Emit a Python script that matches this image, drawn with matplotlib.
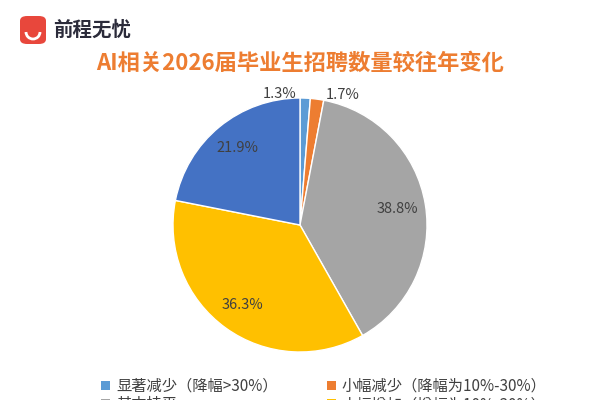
import matplotlib.pyplot as plt
import numpy as np
from matplotlib.patches import FancyBboxPatch, Patch, Arc

plt.rcParams['font.family'] = ['Noto Sans CJK JP', 'Noto Sans CJK SC', 'DejaVu Sans']

categories = ['显著减少（降幅>30%）', '小幅减少（降幅为10%-30%）', '基本持平',
              '小幅增加（增幅为10%-30%）', '大幅增加（增幅>30%）']
values = [1.3, 1.7, 38.8, 36.3, 21.9]
colors = ['#5B9BD5', '#ED7D31', '#A5A5A5', '#FFC000', '#4472C4']

fig = plt.figure(figsize=(6, 4), dpi=100)
ax = fig.add_axes([173/600, 48/400, 254/600, 254/400])
wedges, _ = ax.pie(values, colors=colors, startangle=90, counterclock=False,
                   wedgeprops=dict(edgecolor='white', linewidth=1))
ax.set_aspect('equal')
ax.set_xlim(-1, 1)
ax.set_ylim(-1, 1)

for w, v in zip(wedges, values):
    ang = np.deg2rad((w.theta1 + w.theta2) / 2)
    if v < 5:
        dx = -0.2 if np.cos(ang) < 0.05 else 0.2
        x, y = np.cos(ang) + dx, np.sin(ang) + 0.03
    else:
        r = 0.78
        x, y = r * np.cos(ang), r * np.sin(ang)
    ax.text(x, y, f'{v}%', ha='center', va='center', fontsize=10.5, color='#404040',
            clip_on=False)

# title and logo
fig.text(0.5, 0.842, 'AI相关2026届毕业生招聘数量较往年变化', ha='center', va='center',
         fontsize=16, fontweight='bold', color='#ED7D31')
logo = FancyBboxPatch((20/600, 1 - 44/400), 26/600, 28/400, transform=fig.transFigure,
                      boxstyle='round,pad=0,rounding_size=0.012', facecolor='#E8473C',
                      edgecolor='none')
fig.patches.append(logo)
fig.patches.append(Arc((33/600, 1 - 32/400), 14/600, 14/400, theta1=180, theta2=360,
                       transform=fig.transFigure, color='white', lw=2))
fig.text(53/600, 1 - 30/400, '前程无忧', ha='left', va='center', fontsize=14,
         fontweight='bold', color='#2B2B3A')

# legend fills column by column: reorder so rows read left to right
order = [0, 2, 4, 1, 3]
handles = [Patch(facecolor=colors[i]) for i in order]
labels = [categories[i] for i in order]
fig.legend(handles, labels, ncol=2, loc='upper left', bbox_to_anchor=(0.145, 0.09),
           frameon=False, fontsize=11, handlelength=0.6, handleheight=0.6,
           columnspacing=3.2, labelspacing=0.1, handletextpad=0.4, labelcolor='#404040')

fig.savefig('out.png', dpi=100)
